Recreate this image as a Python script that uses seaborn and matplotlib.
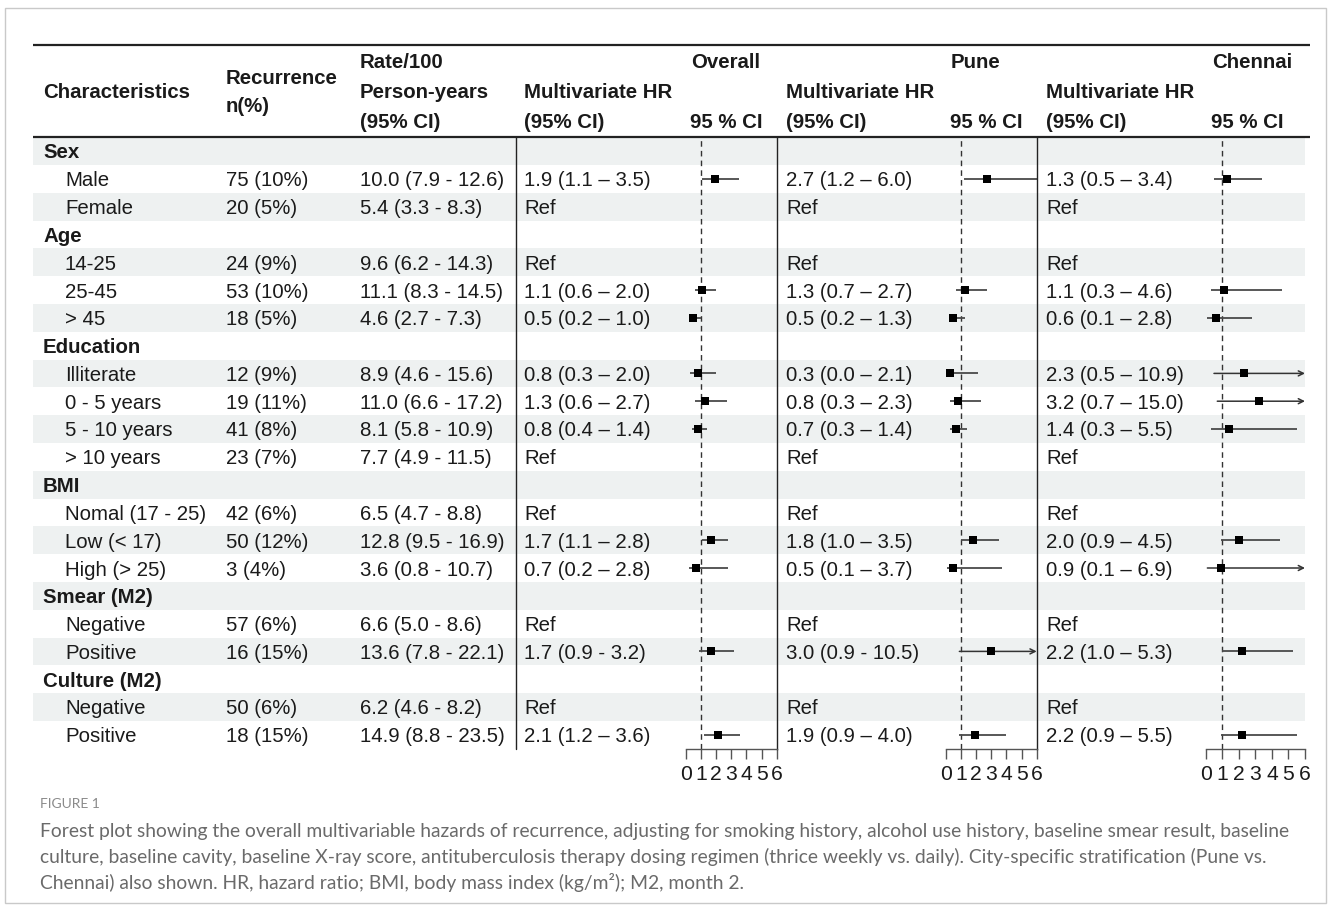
import numpy as np
import pandas as pd
import matplotlib
matplotlib.use("Agg")
import matplotlib.pyplot as plt
from matplotlib.patches import Rectangle
import seaborn as sns

sns.set_theme(style="white")
plt.rcParams["font.family"] = ["Liberation Sans", "DejaVu Sans"]

# ---------------------------------------------------------------- data
labels = ["Sex", "Male", "Female", "Age", "14-25", "25-45", "> 45",
          "Education", "Illiterate", "0 - 5 years", "5 - 10 years", "> 10 years",
          "BMI", "Nomal (17 - 25)", "Low (< 17)", "High (> 25)",
          "Smear (M2)", "Negative", "Positive", "Culture (M2)", "Negative", "Positive"]
is_group = [True, False, False, True, False, False, False,
            True, False, False, False, False,
            True, False, False, False,
            True, False, False, True, False, False]

recurrence = ["", "75 (10%)", "20 (5%)", "", "24 (9%)", "53 (10%)", "18 (5%)",
              "", "12 (9%)", "19 (11%)", "41 (8%)", "23 (7%)",
              "", "42 (6%)", "50 (12%)", "3 (4%)",
              "", "57 (6%)", "16 (15%)", "", "50 (6%)", "18 (15%)"]
rate = ["", "10.0 (7.9 - 12.6)", "5.4 (3.3 - 8.3)", "", "9.6 (6.2 - 14.3)",
        "11.1 (8.3 - 14.5)", "4.6 (2.7 - 7.3)",
        "", "8.9 (4.6 - 15.6)", "11.0 (6.6 - 17.2)", "8.1 (5.8 - 10.9)", "7.7 (4.9 - 11.5)",
        "", "6.5 (4.7 - 8.8)", "12.8 (9.5 - 16.9)", "3.6 (0.8 - 10.7)",
        "", "6.6 (5.0 - 8.6)", "13.6 (7.8 - 22.1)", "", "6.2 (4.6 - 8.2)", "14.9 (8.8 - 23.5)"]

# hazard ratios: np.nan = group heading, "Ref" = reference level
R = "Ref"
N = np.nan
overall_hr = [N, 1.9, R, N, R, 1.1, 0.5, N, 0.8, 1.3, 0.8, R, N, R, 1.7, 0.7, N, R, 1.7, N, R, 2.1]
overall_lo = [N, 1.1, N, N, N, 0.6, 0.2, N, 0.3, 0.6, 0.4, N, N, N, 1.1, 0.2, N, N, 0.9, N, N, 1.2]
overall_hi = [N, 3.5, N, N, N, 2.0, 1.0, N, 2.0, 2.7, 1.4, N, N, N, 2.8, 2.8, N, N, 3.2, N, N, 3.6]

pune_hr = [N, 2.7, R, N, R, 1.3, 0.5, N, 0.3, 0.8, 0.7, R, N, R, 1.8, 0.5, N, R, 3.0, N, R, 1.9]
pune_lo = [N, 1.2, N, N, N, 0.7, 0.2, N, 0.0, 0.3, 0.3, N, N, N, 1.0, 0.1, N, N, 0.9, N, N, 0.9]
pune_hi = [N, 6.0, N, N, N, 2.7, 1.3, N, 2.1, 2.3, 1.4, N, N, N, 3.5, 3.7, N, N, 10.5, N, N, 4.0]

chennai_hr = [N, 1.3, R, N, R, 1.1, 0.6, N, 2.3, 3.2, 1.4, R, N, R, 2.0, 0.9, N, R, 2.2, N, R, 2.2]
chennai_lo = [N, 0.5, N, N, N, 0.3, 0.1, N, 0.5, 0.7, 0.3, N, N, N, 0.9, 0.1, N, N, 1.0, N, N, 0.9]
chennai_hi = [N, 3.4, N, N, N, 4.6, 2.8, N, 10.9, 15.0, 5.5, N, N, N, 4.5, 6.9, N, N, 5.3, N, N, 5.5]

# rows whose interval text is printed with a plain hyphen
hyphen_rows = {"Overall": [18], "Pune": [18], "Chennai": []}

tick_labels = ["0", "1", "2", "3", "4", "5", "6"]
caption_title = "FIGURE 1"
caption_lines = [
    "Forest plot showing the overall multivariable hazards of recurrence, adjusting for smoking history, alcohol use history, baseline smear result, baseline",
    "culture, baseline cavity, baseline X-ray score, antituberculosis therapy dosing regimen (thrice weekly vs. daily). City-specific stratification (Pune vs.",
    "Chennai) also shown. HR, hazard ratio; BMI, body mass index (kg/m\u00b2); M2, month 2.",
]

# ---------------------------------------------------------------- layout
W, H = 1335, 910
fig = plt.figure(figsize=(W / 100, H / 100), dpi=100)
bg = fig.add_axes([0, 0, 1, 1])
bg.set_xlim(0, W)
bg.set_ylim(H, 0)
bg.axis("off")

FS = 14.7
TXT = "#1a1a1a"
TY = 2.0            # small downward nudge so glyphs sit centred in each band
y0, dy = 151.0, 27.8
head_top, head_bot, axis_y = 45, 137, 749
n_rows = len(labels)
row_y = [y0 + i * dy for i in range(n_rows)]

# outer frame
bg.add_patch(Rectangle((5, 8), 1321, 895, fill=False, ec="#c9c9c9", lw=1.0))

# zebra shading
for i, yc in enumerate(row_y):
    if i % 2 == 0:
        bg.add_patch(Rectangle((33, yc - dy / 2), 1305 - 33, dy, fc="#eef1f1", ec="none", zorder=0))

# header rules
bg.plot([33, 1310], [head_top, head_top], color="#222222", lw=1.6, solid_capstyle="butt")
bg.plot([33, 1310], [head_bot, head_bot], color="#222222", lw=1.6, solid_capstyle="butt")
bg.plot([516, 516], [head_bot, axis_y], color="#222222", lw=1.0)

# header text
hb = dict(fontsize=FS, fontweight="bold", color=TXT, va="center", ha="left")
bg.text(43, 91 + TY, "Characteristics", **hb)
bg.text(226, 77 + TY, "Recurrence", **hb)
bg.text(226, 105 + TY, "n(%)", **hb)
bg.text(360, 61 + TY, "Rate/100", **hb)
bg.text(360, 91 + TY, "Person-years", **hb)
bg.text(360, 121 + TY, "(95% CI)", **hb)

study_names = ["Overall", "Pune", "Chennai"]
hr_text_x = [524, 786, 1046]
ci_head_x = [690, 950, 1211]
for name, tx, cx in zip(study_names, hr_text_x, ci_head_x):
    bg.text(tx, 91 + TY, "Multivariate HR", **hb)
    bg.text(tx, 121 + TY, "(95% CI)", **hb)
    bg.text(cx, 121 + TY, "95 % CI", **hb)
    bg.text(cx + 1, 61 + TY, name, **hb)

# body text
for i, yc in enumerate(row_y):
    yt = yc + TY
    if is_group[i]:
        bg.text(43, yt, labels[i], fontsize=FS, fontweight="bold", color=TXT, va="center")
    else:
        bg.text(65, yt, labels[i], fontsize=FS, color=TXT, va="center")
        bg.text(226, yt, recurrence[i], fontsize=FS, color=TXT, va="center")
        bg.text(360, yt, rate[i], fontsize=FS, color=TXT, va="center")

studies = {
    "Overall": (overall_hr, overall_lo, overall_hi),
    "Pune": (pune_hr, pune_lo, pune_hi),
    "Chennai": (chennai_hr, chennai_lo, chennai_hi),
}

for (name, (hr, lo, hi)), tx in zip(studies.items(), hr_text_x):
    for i, yc in enumerate(row_y):
        v = hr[i]
        if isinstance(v, str):
            s = v
        elif np.isnan(v):
            continue
        else:
            dash = "-" if i in hyphen_rows[name] else "\u2013"
            s = f"{v:.1f} ({lo[i]:.1f} {dash} {hi[i]:.1f})"
        bg.text(tx, yc + TY, s, fontsize=FS, color=TXT, va="center")

# ---------------------------------------------------------------- forest panels
panel_x = [(685.7, 776.7), (945.7, 1036.7), (1205.7, 1305.0)]
y_top_row = (head_bot - y0) / dy
y_bot_row = (axis_y - y0) / dy
LINE = "#4a4a4a"

for (name, (hr, lo, hi)), (xa, xb) in zip(studies.items(), panel_x):
    ax = fig.add_axes([xa / W, 1 - axis_y / H, (xb - xa) / W, (axis_y - head_bot) / H])
    ax.patch.set_alpha(0)
    ax.set_xlim(0, 6)
    ax.set_ylim(y_bot_row, y_top_row)

    rows = [i for i in range(n_rows) if not isinstance(hr[i], str) and not np.isnan(hr[i])]
    df = pd.DataFrame({
        "row": rows,
        "hr": [hr[i] for i in rows],
        "lo": [lo[i] for i in rows],
        "hi": [hi[i] for i in rows],
    })

    ax.axvline(1, color="#333333", lw=1.0, ls=(0, (4, 3)), zorder=1)

    for _, r in df.iterrows():
        if r["hi"] > 6:
            ax.annotate("", xy=(6, r["row"]), xytext=(r["lo"], r["row"]),
                        arrowprops=dict(arrowstyle="->", color="#333333", lw=1.1,
                                        shrinkA=0, shrinkB=0, mutation_scale=9),
                        annotation_clip=False, zorder=2)
        else:
            ax.hlines(r["row"], r["lo"], r["hi"], color=LINE, lw=1.3, zorder=2, clip_on=False)

    sns.scatterplot(data=df, x="hr", y="row", marker="s", color="black", s=30,
                    linewidth=0, ax=ax, legend=False, zorder=3, clip_on=False)
    ax.set_ylim(y_bot_row, y_top_row)
    ax.set_xlabel("")
    ax.set_ylabel("")
    ax.set_yticks([])
    ax.set_xticks(range(7))
    ax.set_xticklabels(tick_labels)
    ax.tick_params(axis="x", direction="out", length=7.5, width=1.0, color="#555555",
                   labelsize=FS + 0.5, labelcolor=TXT, pad=4.0, bottom=True)
    for side in ["top", "left"]:
        ax.spines[side].set_visible(False)
    ax.spines["bottom"].set_color("#555555")
    ax.spines["bottom"].set_linewidth(1.0)
    if name == "Chennai":
        ax.spines["right"].set_visible(False)
    else:
        ax.spines["right"].set_color("#222222")
        ax.spines["right"].set_linewidth(1.0)

# ---------------------------------------------------------------- caption
cap_font = ["Lato", "DejaVu Sans"]
bg.text(40, 804, caption_title, fontsize=10, color="#8a8a8a", va="center", family=cap_font)
for k, line in enumerate(caption_lines):
    bg.text(40, 831 + k * 25.5, line, fontsize=13.9, color="#6a6a6a", va="center", family=cap_font)

fig.savefig("out.png", dpi=100)
